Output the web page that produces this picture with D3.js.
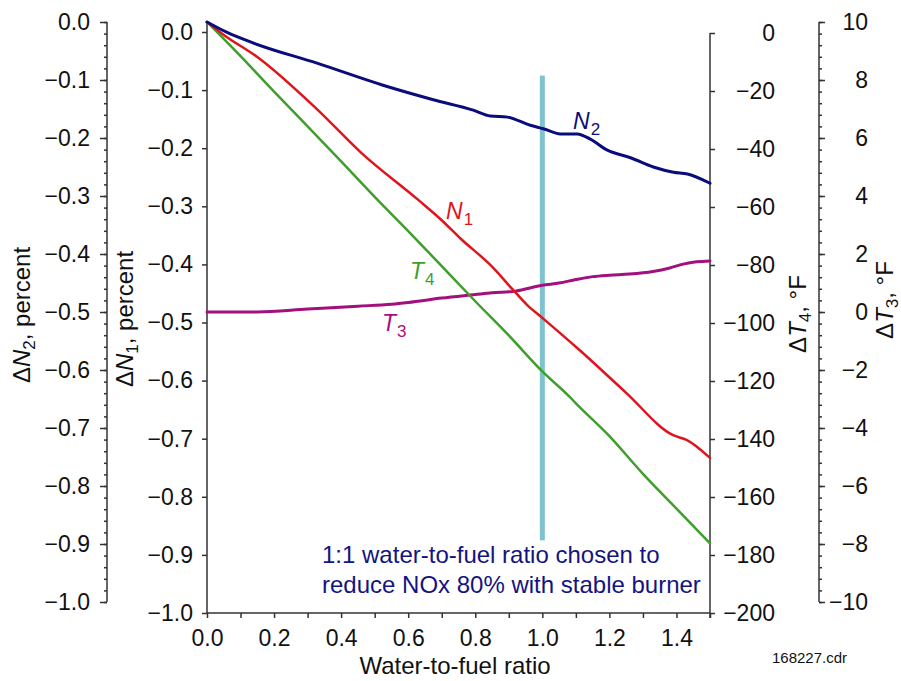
<!DOCTYPE html>
<html>
<head>
<meta charset="utf-8">
<script src="https://cdn.jsdelivr.net/npm/d3@7"></script>
<style>
  body { margin: 0; background: #fff; }
  svg { font-family: "Liberation Sans", Arial, sans-serif; }
</style>
</head>
<body>
<div id="chart"></div>
<script>
// water-to-fuel ratio sample points and readings for each curve
var n1X   = [0, 0.05, 0.15, 0.33, 0.46, 0.63, 0.70, 0.755, 0.845, 0.913, 0.955, 1.0, 1.11, 1.25, 1.39, 1.43, 1.5];
var n1Val = [0.017, -0.005, -0.043, -0.134, -0.208, -0.289, -0.324, -0.355, -0.401, -0.444, -0.470, -0.492, -0.547, -0.621, -0.694, -0.702, -0.733];

var n2X   = [0, 0.06, 0.137, 0.328, 0.525, 0.675, 0.794, 0.845, 0.896, 0.964, 1.003, 1.054, 1.104, 1.143, 1.194, 1.263, 1.331, 1.391, 1.433, 1.5];
var n2Val = [0, -0.018, -0.036, -0.071, -0.109, -0.134, -0.152, -0.162, -0.164, -0.178, -0.184, -0.193, -0.193, -0.202, -0.221, -0.234, -0.250, -0.259, -0.262, -0.278];

var t4X   = [0, 0.1, 0.2, 0.3, 0.4, 0.5, 0.6, 0.7, 0.8, 0.9, 1.0, 1.08, 1.1, 1.2, 1.3, 1.4, 1.5];
var t4Val = [3.8, -8, -20.2, -32.2, -44.3, -56.5, -68.3, -80.4, -92.5, -104.3, -116.7, -125.3, -127.7, -139, -152, -164, -176];

var t3X   = [0, 0.15, 0.3, 0.45, 0.55, 0.6, 0.7, 0.8, 0.85, 0.92, 1.0, 1.05, 1.1, 1.15, 1.2, 1.26, 1.33, 1.38, 1.42, 1.46, 1.5];
var t3Val = [0, 0, 0.1, 0.2, 0.27, 0.33, 0.48, 0.6, 0.66, 0.72, 0.92, 1.0, 1.12, 1.22, 1.27, 1.31, 1.4, 1.52, 1.65, 1.73, 1.76];

var xTicks  = d3.range(0, 16).map(function(i) { return i / 10; });
var n1Ticks = d3.range(0, 11).map(function(i) { return -i / 10; });
var n2Ticks = n1Ticks;
var n2Minor = d3.range(0, 51).map(function(i) { return -i / 50; });
var t4Ticks = d3.range(0, 11).map(function(i) { return -i * 20; });
var t3Ticks = d3.range(0, 11).map(function(i) { return 10 - i * 2; });
var t3Minor = d3.range(0, 51).map(function(i) { return 10 - i * 0.4; });

// chosen operating point
var markerX = 1.0, markerTop = -0.075, markerBottom = -0.875;

var width = 901, height = 681;
var svg = d3.select("#chart").append("svg")
    .attr("width", width)
    .attr("height", height);

var x   = d3.scaleLinear().domain([0, 1.5]).range([207, 710]);
var yN1 = d3.scaleLinear().domain([-1, 0]).range([613, 32]);
var yT4 = d3.scaleLinear().domain([-200, 0]).range([613, 33]);
var yN2 = d3.scaleLinear().domain([-1, 0]).range([602, 22]);
var yT3 = d3.scaleLinear().domain([-10, 10]).range([602, 22]);

var axisColor = "#333", fs = "23px", fsTitle = "24px";

function styleAxis(g) {
  g.select(".domain").remove();
  g.selectAll("line").attr("stroke", axisColor).attr("stroke-width", 1.5);
  g.selectAll("text").attr("fill", "#111").style("font-size", fs).attr("font-family", null);
}

// far-left N2 axis
svg.append("g").attr("transform", "translate(107,0)")
  .call(d3.axisLeft(yN2).tickValues(n2Minor).tickSize(3).tickFormat(""))
  .call(styleAxis);
svg.append("g").attr("transform", "translate(107,0)")
  .call(d3.axisLeft(yN2).tickValues(n2Ticks).tickSize(7).tickPadding(10).tickFormat(d3.format(".1f")))
  .call(styleAxis);
svg.append("line").attr("x1", 107).attr("x2", 107).attr("y1", yN2(0)).attr("y2", yN2(-1))
  .attr("stroke", axisColor).attr("stroke-width", 1.5);

// N1 axis
svg.append("g").attr("transform", "translate(207,0)")
  .call(d3.axisLeft(yN1).tickValues(n1Ticks).tickSize(5).tickPadding(9).tickFormat(d3.format(".1f")))
  .call(styleAxis);
svg.append("line").attr("x1", 207).attr("x2", 207).attr("y1", yN2(0)).attr("y2", yN1(-1))
  .attr("stroke", axisColor).attr("stroke-width", 1.5);

// x axis
svg.append("g").attr("transform", "translate(0," + yN1(-1) + ")")
  .call(d3.axisBottom(x).tickValues(xTicks).tickSize(5).tickPadding(12)
    .tickFormat(function(d) { return Math.round(d * 10) % 2 === 0 ? d3.format(".1f")(d) : ""; }))
  .call(styleAxis);
svg.append("line").attr("x1", x(0)).attr("x2", x(1.5)).attr("y1", yN1(-1)).attr("y2", yN1(-1))
  .attr("stroke", axisColor).attr("stroke-width", 1.5);

// T4 axis
svg.append("g").attr("transform", "translate(710,0)")
  .call(d3.axisRight(yT4).tickValues(t4Ticks).tickSize(5).tickFormat(d3.format("d")))
  .call(styleAxis)
  .selectAll("text").attr("text-anchor", "end").attr("x", 65);
svg.append("line").attr("x1", 710).attr("x2", 710).attr("y1", yT4(0)).attr("y2", yN1(-1) + 5)
  .attr("stroke", axisColor).attr("stroke-width", 1.5);

// T3 axis
svg.append("g").attr("transform", "translate(819,0)")
  .call(d3.axisRight(yT3).tickValues(t3Minor).tickSize(3).tickFormat(""))
  .call(styleAxis);
svg.append("g").attr("transform", "translate(819,0)")
  .call(d3.axisRight(yT3).tickValues(t3Ticks).tickSize(6).tickFormat(d3.format("d")))
  .call(styleAxis)
  .selectAll("text").attr("text-anchor", "end").attr("x", 49);
svg.append("line").attr("x1", 819).attr("x2", 819).attr("y1", yT3(10)).attr("y2", yT3(-10))
  .attr("stroke", axisColor).attr("stroke-width", 1.5);

// marker bar
svg.append("rect")
  .attr("x", x(markerX) - 2.5).attr("width", 5)
  .attr("y", yN1(markerTop)).attr("height", yN1(markerBottom) - yN1(markerTop))
  .attr("fill", "#7fc3cf");

// curves
function drawLine(xs, vals, yScale, color, w) {
  var pts = xs.map(function(d, i) { return [d, vals[i]]; });
  svg.append("path").datum(pts)
    .attr("fill", "none").attr("stroke", color).attr("stroke-width", w)
    .attr("stroke-linejoin", "round").attr("stroke-linecap", "round")
    .attr("d", d3.line().x(function(d) { return x(d[0]); }).y(function(d) { return yScale(d[1]); })
      .curve(d3.curveMonotoneX));
}
var cN1 = "#e0141c", cN2 = "#0a0c7c", cT4 = "#3f9e2c", cT3 = "#a3107e";
drawLine(t3X, t3Val, yT3, cT3, 3);
drawLine(t4X, t4Val, yT4, cT4, 2.5);
drawLine(n1X, n1Val, yN1, cN1, 2.5);
drawLine(n2X, n2Val, yN2, cN2, 3);

// curve labels
function curveLabel(px, py, letter, sub, color) {
  var t = svg.append("text").attr("x", px).attr("y", py).attr("fill", color).style("font-size", fs);
  t.append("tspan").attr("font-style", "italic").text(letter);
  t.append("tspan").attr("dy", 6).attr("dx", 1).style("font-size", "17px").text(sub);
}
curveLabel(573, 129, "N", "2", cN2);
curveLabel(446, 219, "N", "1", cN1);
curveLabel(410, 279, "T", "4", cT4);
curveLabel(382, 331, "T", "3", cT3);

// axis titles
function axisTitle(bx, cy, letter, sub, rest) {
  var t = svg.append("text").attr("transform", "translate(" + bx + "," + cy + ") rotate(-90)")
    .attr("text-anchor", "middle").attr("fill", "#111").style("font-size", fsTitle);
  t.append("tspan").text("\u0394");
  t.append("tspan").attr("font-style", "italic").text(letter);
  t.append("tspan").attr("dy", 5).style("font-size", "17px").text(sub);
  t.append("tspan").attr("dy", -5).text(rest);
}
axisTitle(30, 315, "N", "2", ", percent");
axisTitle(133, 319, "N", "1", ", percent");
axisTitle(806, 314, "T", "4", ", \u00b0F");
axisTitle(893, 300, "T", "3", ", \u00b0F");

svg.append("text").attr("x", 455).attr("y", 674).attr("text-anchor", "middle")
  .attr("fill", "#111").style("font-size", fsTitle).text("Water-to-fuel ratio");

svg.append("text").attr("x", 772).attr("y", 663).attr("fill", "#111").style("font-size", "15px")
  .text("168227.cdr");

var note = svg.append("text").attr("fill", "#141480").style("font-size", "24px");
note.append("tspan").attr("x", 322).attr("y", 563).text("1:1 water-to-fuel ratio chosen to");
note.append("tspan").attr("x", 322).attr("y", 593).text("reduce NOx 80% with stable burner");
</script>
</body>
</html>
